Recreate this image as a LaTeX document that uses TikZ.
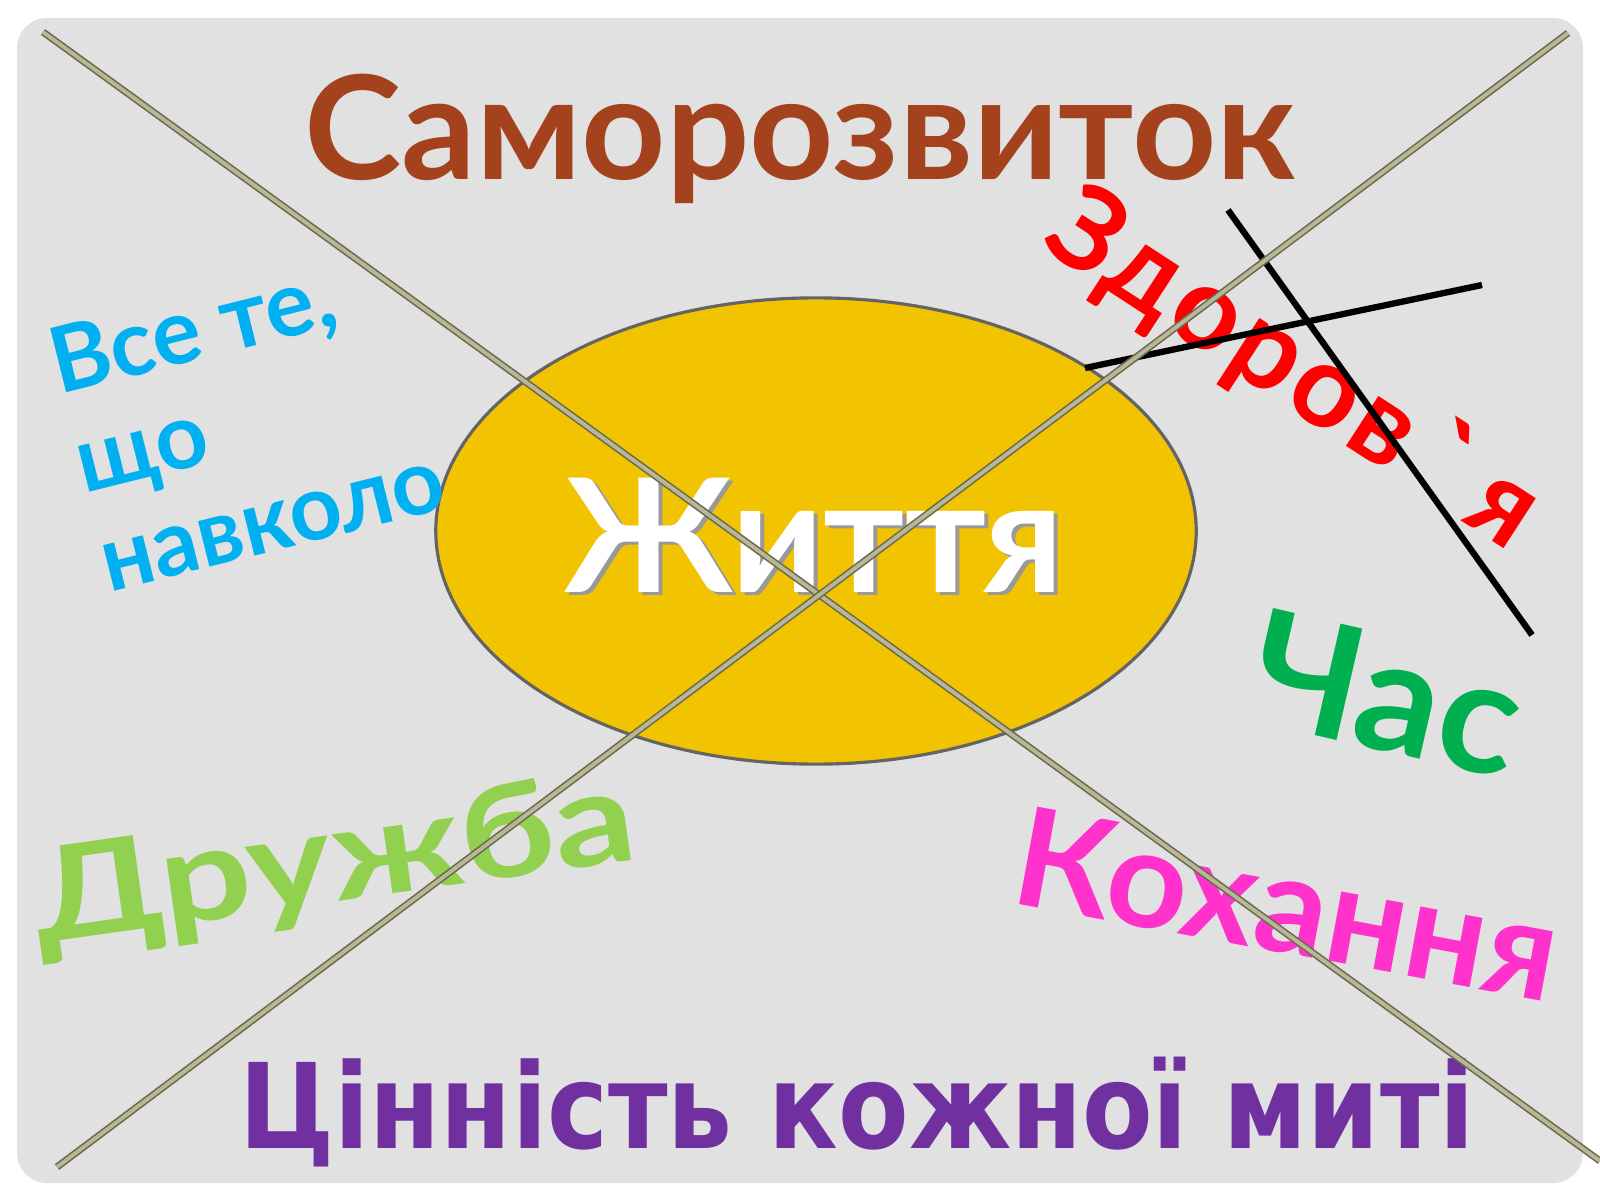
\documentclass[tikz,border=0pt]{standalone}
\usepackage{fontspec}
\setmainfont{Lato}
\newfontfamily\narrowfont{DejaVu Sans}
\usepackage{xcolor}
\usetikzlibrary{shapes.geometric}

\definecolor{slide}{RGB}{225,225,225}
\definecolor{ovalfill}{RGB}{242,195,0}
\definecolor{ovaledge}{RGB}{100,100,100}
\definecolor{samocol}{RGB}{163,66,29}
\definecolor{zdorcol}{RGB}{255,0,0}
\definecolor{vsecol}{RGB}{0,176,240}
\definecolor{chascol}{RGB}{0,176,80}
\definecolor{druzhcol}{RGB}{146,208,80}
\definecolor{kohcol}{RGB}{255,51,204}
\definecolor{mytcol}{RGB}{112,48,160}
\definecolor{stickfill}{RGB}{185,183,150}
\definecolor{stickedge}{RGB}{105,105,80}

\tikzset{
  word/.style={inner sep=0pt, font=\bfseries\fontsize{30}{36}\selectfont},
  stick/.style={draw=stickedge, line width=2pt, postaction={draw=stickfill, line width=1.1pt}},
  strike/.style={draw=black, line width=1.8pt}
}

\begin{document}
\begin{tikzpicture}[x=0.01cm,y=-0.01cm]
\useasboundingbox (0,0) rectangle (1600,1200);
\fill[white] (0,0) rectangle (1600,1200);
\fill[slide, rounded corners=0.3cm] (17,18) rectangle (1583,1183);

% the oval in the middle
\node (oval) at (816,531) [ellipse, draw=ovaledge, line width=0.9pt, fill=ovalfill, minimum width=7.6cm, minimum height=4.66cm] {};
\node (lifeshadow) at (818,595) [word, anchor=base, scale=1.5, text=black!40] {Життя};
\node (life) at (814,592) [word, anchor=base, scale=1.5, text=white] {Життя};

% words round it
\node (samo) at (800,179) [word, anchor=base, xscale=1.394, yscale=1.367, text=samocol] {Саморозвиток};
\node (zdor) at (1292,372) [word, rotate=-33, text=zdorcol, font=\bfseries\fontsize{33}{40}\selectfont\addfontfeature{LetterSpace=4}] {Здоров\,\textasciigrave\,я};
\node (vse) at (43,330) [word, anchor=north west, rotate=14, align=left, text=vsecol, font=\bfseries\fontsize{26}{29}\selectfont] {Все те,\\що\\навколо};
\node (chas) at (1240,718) [word, anchor=base west, rotate=-13, xscale=1.56, yscale=1.5, text=chascol] {Час};
\node (koh) at (1008,902) [word, anchor=base west, rotate=-10.5, xscale=1.34, yscale=1.3, text=kohcol] {Кохання};
\node (druzh) at (38,944) [word, anchor=base west, rotate=8, xscale=1.52, yscale=1.23, text=druzhcol] {Дружба};
\node (myt) at (857,1148) [word, anchor=base, xscale=0.87, text=mytcol, font=\narrowfont\bfseries\fontsize{33.6}{40}\selectfont] {Цінність кожної миті};

% crossing out
\coordinate (c1a) at (1228,210);
\coordinate (c1b) at (1532,635);
\coordinate (c2a) at (1085,368);
\coordinate (c2b) at (1482,285);
\draw[strike] (c1a) -- (c1b);
\draw[strike] (c2a) -- (c2b);

\coordinate (s1a) at (43,32);
\coordinate (s1b) at (1600,1161);
\coordinate (s2a) at (57,1167);
\coordinate (s2b) at (1568,33);
\draw[stick] (s1a) -- (s1b);
\draw[stick] (s2a) -- (s2b);
\end{tikzpicture}
\end{document}
